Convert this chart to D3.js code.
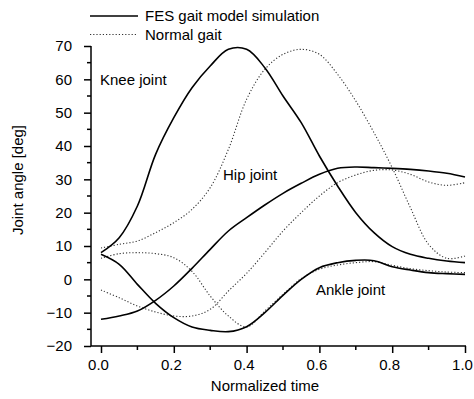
<!DOCTYPE html>
<html>
<head>
<meta charset="utf-8">
<script src="https://cdn.jsdelivr.net/npm/d3@7"></script>
<style>
  body { margin: 0; background: #fff; }
  svg { display: block; font-family: "Liberation Sans", Arial, sans-serif; }
  .axis text { font-size: 15px; fill: #000; }
  .axis line, .axis path { stroke: #000; stroke-width: 1.5; }
</style>
</head>
<body>
<div id="graph"></div>
<script>
// normalized time samples
var time = [0, 0.05, 0.1, 0.15, 0.2, 0.25, 0.3, 0.35, 0.4, 0.45, 0.5,
  0.55, 0.6, 0.65, 0.7, 0.75, 0.8, 0.85, 0.9, 0.95, 1.0]

// FES gait model simulation (solid)
var kneeFES  = [8, 12.5, 22, 37.5, 48.5, 57.5, 64, 69, 69, 63.5, 55, 47, 37, 28, 20, 14, 9.8, 7.5, 6.3, 5.5, 5]
var hipFES   = [-12, -11, -9.5, -6.3, -2, 3.3, 9, 14.5, 18.5, 22.3, 25.8, 28.8, 31.5, 33.3, 33.7, 33.5, 33.3, 33, 32.5, 31.8, 30.7]
var ankleFES = [7.5, 4.5, -1.5, -7.2, -11.5, -14.3, -15.3, -15.7, -14.2, -10, -4.8, 0, 3.5, 5, 5.7, 5.6, 3.8, 2.8, 2, 1.7, 1.5]

// Normal gait (dotted)
var kneeNormal  = [9.4, 10.5, 11.5, 14, 17, 21, 27.5, 39, 54, 63, 67.5, 69, 67.5, 61.5, 53.5, 44, 33.5, 21.5, 10.5, 6.3, 7]
var hipNormal   = [-3.2, -5.5, -8, -9.8, -11, -11, -9, -3.5, 1.8, 8, 14.5, 20, 25, 29, 31.3, 32.7, 32.8, 31.5, 29.2, 28.2, 29]
var ankleNormal = [6.3, 7.7, 8, 7.7, 6.5, 2.4, -5, -11, -14.3, -9.5, -4.5, 0.2, 3, 4.3, 5, 5.3, 4.2, 3.2, 2.6, 2.2, 2]

var xTicks = [0, 0.2, 0.4, 0.6, 0.8, 1.0]
var yTicks = [-20, -10, 0, 10, 20, 30, 40, 50, 60, 70]

var width = 474, height = 399

var svg = d3.select('#graph').append('svg')
  .attr('width', width).attr('height', height)

var x = d3.scaleLinear().domain([0, 1]).range([101, 465])
var y = d3.scaleLinear().domain([-20, 70]).range([346, 46])

// x axis
var gx = svg.append('g').attr('class', 'axis')
  .attr('transform', 'translate(0,346)')
  .call(d3.axisBottom(x).tickValues(xTicks).tickSize(7).tickPadding(6).tickFormat(d3.format('.1f')))
gx.select('.domain').remove()
gx.selectAll('.tick text').attr('dx', -3)
gx.append('line').attr('x1', 91).attr('x2', 466).attr('y1', 0).attr('y2', 0)
gx.selectAll('.minor').data(d3.range(0.1, 1, 0.2)).enter().append('line')
  .attr('x1', function(d) { return x(d) }).attr('x2', function(d) { return x(d) })
  .attr('y1', 0).attr('y2', 4)

// y axis
var gy = svg.append('g').attr('class', 'axis')
  .attr('transform', 'translate(91,0)')
  .call(d3.axisLeft(y).tickValues(yTicks).tickSize(7).tickPadding(12).tickFormat(function(d) { return d < 0 ? '\u2212' + (-d) : d }))
gy.select('.domain').remove()
gy.append('line').attr('x1', 0).attr('x2', 0).attr('y1', 46).attr('y2', 346)
gy.selectAll('.minor').data(d3.range(-15, 70, 10)).enter().append('line')
  .attr('x1', -4).attr('x2', 0)
  .attr('y1', function(d) { return y(d) }).attr('y2', function(d) { return y(d) })

var line = d3.line()
  .x(function(d, i) { return x(time[i]) })
  .y(function(d) { return y(d) })
  .curve(d3.curveCatmullRom)

// normal gait dotted
;[kneeNormal, hipNormal, ankleNormal].forEach(function(s) {
  svg.append('path').attr('d', line(s))
    .attr('fill', 'none').attr('stroke', '#333').attr('stroke-width', 1.1)
    .attr('stroke-dasharray', '1.2,2')
})

// FES solid
;[kneeFES, hipFES, ankleFES].forEach(function(s) {
  svg.append('path').attr('d', line(s))
    .attr('fill', 'none').attr('stroke', '#000').attr('stroke-width', 1.6)
})

// axis titles
svg.append('text').attr('x', 265).attr('y', 391)
  .attr('text-anchor', 'middle').style('font-size', '15px')
  .text('Normalized time')
svg.append('text').attr('transform', 'translate(23,180) rotate(-90)')
  .attr('text-anchor', 'middle').style('font-size', '15px')
  .text('Joint angle [deg]')

// joint labels
svg.append('text').attr('x', 100).attr('y', 85).style('font-size', '15px').text('Knee joint')
svg.append('text').attr('x', 223).attr('y', 180).style('font-size', '15px').text('Hip joint')
svg.append('text').attr('x', 316).attr('y', 295).style('font-size', '15px').text('Ankle joint')

// legend
svg.append('line').attr('x1', 90).attr('x2', 138).attr('y1', 16).attr('y2', 16)
  .attr('stroke', '#000').attr('stroke-width', 1.6)
svg.append('text').attr('x', 145).attr('y', 21).style('font-size', '15px').text('FES gait model simulation')
svg.append('line').attr('x1', 90).attr('x2', 138).attr('y1', 34.5).attr('y2', 34.5)
  .attr('stroke', '#333').attr('stroke-width', 1.1).attr('stroke-dasharray', '1.2,2')
svg.append('text').attr('x', 145).attr('y', 40).style('font-size', '15px').text('Normal gait')
</script>
</body>
</html>
